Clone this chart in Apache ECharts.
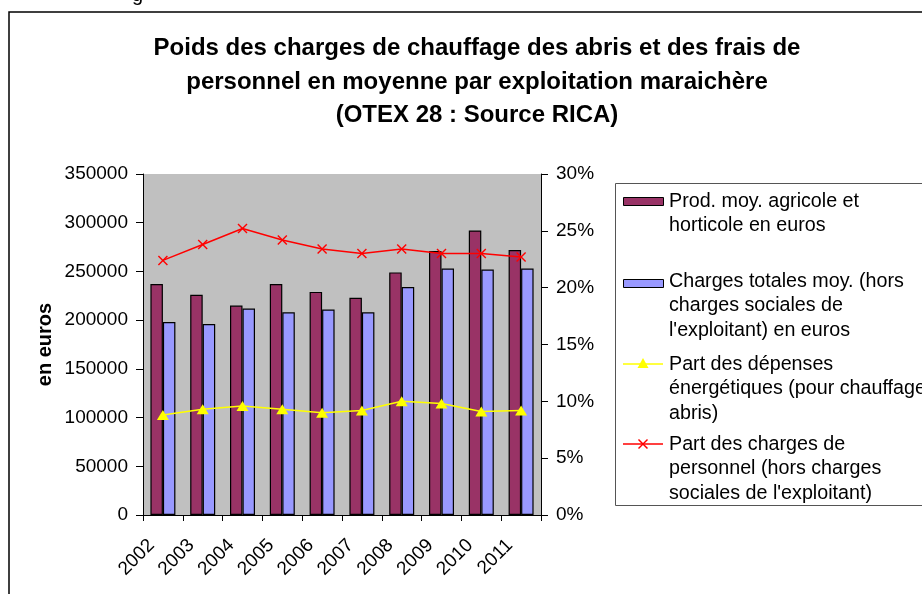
<!DOCTYPE html>
<html>
<head>
<meta charset="utf-8">
<script src="https://cdn.jsdelivr.net/npm/echarts@6.0.0/dist/echarts.min.js"></script>
<style>
  html, body { margin: 0; padding: 0; background: #fff; }
  #chart { width: 922px; height: 594px; }
</style>
</head>
<body>
<div id="chart"></div>
<script>
const years = ['2002', '2003', '2004', '2005', '2006', '2007', '2008', '2009', '2010', '2011'];
const prodValues = [237000, 226000, 215000, 237000, 229000, 223000, 249000, 271000, 292000, 272000];
const chargesValues = [198000, 196000, 212000, 208000, 211000, 208000, 234000, 253000, 252000, 253000];
const energyShare = [8.8, 9.3, 9.6, 9.3, 9.0, 9.2, 10.0, 9.8, 9.1, 9.2];
const personnelShare = [22.4, 23.8, 25.2, 24.2, 23.4, 23.0, 23.4, 23.0, 23.0, 22.7];
const leftTicks = { min: 0, max: 350000, interval: 50000 };
const rightTicks = { min: 0, max: 30, interval: 5 };

const seriesNames = [
    'Prod. moy. agricole et\nhorticole en euros',
    'Charges totales moy. (hors\ncharges sociales de\nl\'exploitant) en euros',
    'Part des dépenses\nénergétiques (pour chauffage\nabris)',
    'Part des charges de\npersonnel (hors charges\nsociales de l\'exploitant)'
];

const FONT = 'Liberation Sans, Arial, sans-serif';
const MAROON = '#993366';
const LAVENDER = '#9999FF';
const CROSS = 'path://M0,1L1,0L5,4L9,0L10,1L6,5L10,9L9,10L5,6L1,10L0,9L4,5Z';

const chart = echarts.init(document.getElementById('chart'), null, { renderer: 'canvas' });

// legend drawn by hand so the key sits on the first text line, like the original
function legendText(y, text) {
    return {
        type: 'text', left: 669, top: y - 12,
        style: { text: text, font: '19.7px ' + FONT, fill: '#000', lineHeight: 24.5 }
    };
}

const legend = [
    { type: 'rect', shape: { x: 615.5, y: 183.5, width: 320, height: 322 }, style: { fill: '#fff', stroke: '#555', lineWidth: 1 } },
    { type: 'rect', shape: { x: 623.5, y: 197.5, width: 40, height: 8 }, style: { fill: MAROON, stroke: '#000', lineWidth: 1 } },
    legendText(201, seriesNames[0]),
    { type: 'rect', shape: { x: 623.5, y: 279.5, width: 40, height: 8 }, style: { fill: LAVENDER, stroke: '#000', lineWidth: 1 } },
    legendText(281, seriesNames[1]),
    { type: 'line', shape: { x1: 623, y1: 364, x2: 663, y2: 364 }, style: { stroke: '#FFFF00', lineWidth: 1.5 } },
    { type: 'polygon', shape: { points: [[643, 358], [648.5, 368], [637.5, 368]] }, style: { fill: '#FFFF00' } },
    legendText(364, seriesNames[2]),
    { type: 'line', shape: { x1: 623, y1: 444, x2: 663, y2: 444 }, style: { stroke: '#FF0000', lineWidth: 1.5 } },
    { type: 'line', shape: { x1: 638.5, y1: 439.5, x2: 647.5, y2: 448.5 }, style: { stroke: '#FF0000', lineWidth: 1.5 } },
    { type: 'line', shape: { x1: 647.5, y1: 439.5, x2: 638.5, y2: 448.5 }, style: { stroke: '#FF0000', lineWidth: 1.5 } },
    legendText(444, seriesNames[3])
];

const option = {
    animation: false,
    backgroundColor: '#fff',
    textStyle: { fontFamily: FONT },
    title: {
        text: 'Poids des charges de chauffage des abris et des frais de\npersonnel en moyenne par exploitation maraichère\n(OTEX 28 : Source RICA)',
        left: 472, top: 27, textAlign: 'center',
        textStyle: { fontSize: 24, fontWeight: 'bold', color: '#000', lineHeight: 33.5, fontFamily: FONT }
    },
    grid: {
        left: 143, top: 174, width: 398, height: 341,
        show: true, backgroundColor: '#C0C0C0', borderWidth: 0
    },
    xAxis: {
        type: 'category',
        data: years,
        axisLine: { lineStyle: { color: '#000', width: 1 } },
        axisTick: { show: true, length: 6, lineStyle: { color: '#000' } },
        axisLabel: { rotate: 45, fontSize: 19, color: '#000', margin: 16, padding: [0, 16, 0, 0], fontFamily: FONT }
    },
    yAxis: [
        {
            type: 'value', position: 'left',
            min: leftTicks.min, max: leftTicks.max, interval: leftTicks.interval,
            name: 'en euros', nameLocation: 'middle', nameGap: 88,
            nameTextStyle: { fontSize: 20, fontWeight: 'bold', color: '#000', fontFamily: FONT },
            axisLine: { show: true, lineStyle: { color: '#000', width: 1 } },
            axisTick: { show: true, length: 7, lineStyle: { color: '#000' } },
            axisLabel: { fontSize: 19, color: '#000', margin: 15, fontFamily: FONT, formatter: v => String(v) },
            splitLine: { show: false }
        },
        {
            type: 'value', position: 'right',
            min: rightTicks.min, max: rightTicks.max, interval: rightTicks.interval,
            axisLine: { show: true, lineStyle: { color: '#000', width: 1 } },
            axisTick: { show: true, length: 7, lineStyle: { color: '#000' } },
            axisLabel: { fontSize: 19, color: '#000', margin: 15, formatter: '{value}%', fontFamily: FONT },
            splitLine: { show: false }
        }
    ],
    series: [
        {
            name: seriesNames[0], type: 'bar', yAxisIndex: 0, data: prodValues,
            barWidth: 12.5, barGap: '0%',
            itemStyle: { color: MAROON, borderColor: '#000', borderWidth: 1.2 }
        },
        {
            name: seriesNames[1], type: 'bar', yAxisIndex: 0, data: chargesValues,
            barWidth: 12.5, barGap: '0%',
            itemStyle: { color: LAVENDER, borderColor: '#000', borderWidth: 1.2 }
        },
        {
            name: seriesNames[2], type: 'line', yAxisIndex: 1, data: energyShare,
            symbol: 'triangle', symbolSize: [12, 10],
            lineStyle: { color: '#FFFF00', width: 1.5 },
            itemStyle: { color: '#FFFF00' }
        },
        {
            name: seriesNames[3], type: 'line', yAxisIndex: 1, data: personnelShare,
            symbol: CROSS, symbolSize: 10,
            lineStyle: { color: '#FF0000', width: 1.5 },
            itemStyle: { color: '#FF0000' }
        }
    ],
    graphic: [
        { type: 'rect', shape: { x: 9, y: 12, width: 940, height: 600 }, style: { fill: null, stroke: '#000', lineWidth: 1.5 } },
        { type: 'text', left: 132, top: -15, style: { text: 'g', font: '20px ' + FONT, fill: '#000' } }
    ].concat(legend)
};

chart.setOption(option);
</script>
</body>
</html>
